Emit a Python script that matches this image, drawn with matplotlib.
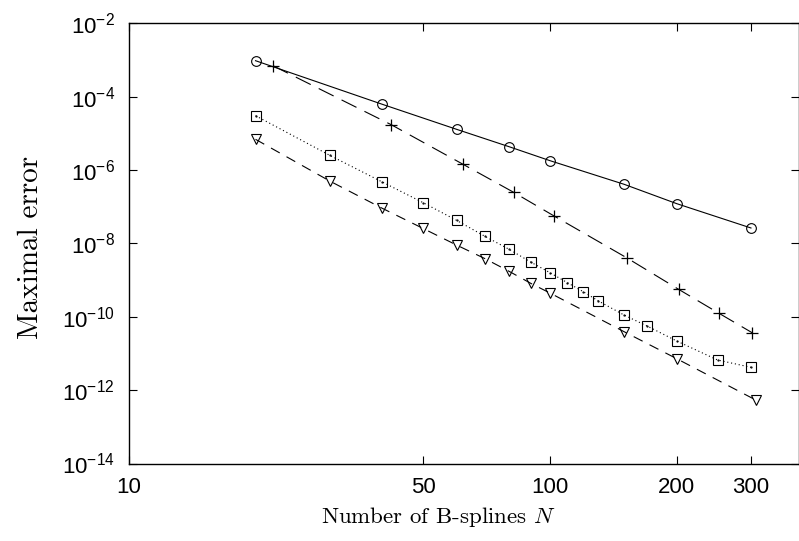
import matplotlib
matplotlib.use("Agg")
import matplotlib.pyplot as plt
from matplotlib.ticker import FixedLocator, FuncFormatter, NullLocator
import numpy as np

# ---- data ----
n_circle = [20, 40, 60, 80, 100, 150, 200, 300]
err_circle = [9.56e-4, 6.19e-5, 1.29e-5, 4.32e-6, 1.80e-6, 4.08e-7, 1.21e-7, 2.63e-8]

n_plus = [22, 42, 62, 82, 102, 152, 202, 252, 302]
err_plus = [6.98e-4, 1.72e-5, 1.46e-6, 2.47e-7, 5.69e-8, 4.07e-9, 5.60e-10, 1.24e-10, 3.67e-11]

n_square = [20, 30, 40, 50, 60, 70, 80, 90, 100, 110, 120, 130, 150, 170, 200, 250, 300]
err_square = [3.03e-5, 2.52e-6, 4.71e-7, 1.29e-7, 4.26e-8, 1.57e-8, 6.90e-9, 3.10e-9, 1.59e-9,
              8.48e-10, 4.82e-10, 2.74e-10, 1.11e-10, 5.60e-11, 2.18e-11, 6.62e-12, 4.19e-12]

n_tri = [20, 30, 40, 50, 60, 70, 80, 90, 100, 150, 200, 308]
err_tri = [6.88e-6, 5.02e-7, 9.04e-8, 2.55e-8, 9.03e-9, 3.87e-9, 1.73e-9, 8.17e-10, 4.44e-10,
           3.91e-11, 7.18e-12, 5.37e-13]

x_ticks = [10, 50, 100, 200, 300]
y_ticks = [1e-14, 1e-12, 1e-10, 1e-8, 1e-6, 1e-4, 1e-2]

plt.rcParams['mathtext.fontset'] = 'cm'
plt.rcParams['font.family'] = ['Liberation Sans', 'DejaVu Sans']

fig = plt.figure(figsize=(7.99, 5.41), dpi=100)
ax = fig.add_axes([128.7/799, 1-463.5/541, (798.5-128.7)/799, (463.5-23.3)/541])

lw = 0.8
ax.plot(n_circle, err_circle, color='black', lw=lw, ls='-', marker='o', ms=7,
        mfc='none', mec='black', mew=0.8)
ax.plot(n_plus, err_plus, color='black', lw=lw, ls=(0, (15, 8)), marker='+', ms=9,
        mec='black', mew=0.9)
ax.plot(n_square, err_square, color='black', lw=lw, ls=(0, (1, 2.5)), marker='s', ms=7,
        mfc='none', mec='black', mew=0.8)
ax.plot(n_square, err_square, ls='none', marker='.', ms=1.2, color='black')
ax.plot(n_tri, err_tri, color='black', lw=lw, ls=(0, (9, 7)), marker='v', ms=7.5,
        mfc='none', mec='black', mew=0.8)

ax.set_xscale('log')
ax.set_yscale('log')
ax.set_xlim(10, 389)
ax.set_ylim(1e-14, 1e-2)

ax.xaxis.set_major_locator(FixedLocator(x_ticks))
ax.xaxis.set_minor_locator(NullLocator())
ax.xaxis.set_major_formatter(FuncFormatter(lambda v, p: '%d' % round(v)))
ax.yaxis.set_major_locator(FixedLocator(y_ticks))
ax.yaxis.set_minor_locator(NullLocator())
ax.yaxis.set_major_formatter(FuncFormatter(lambda v, p: r'$\mathregular{10^{%d}}$' % round(np.log10(v))))

ax.tick_params(direction='in', length=6, width=0.8, top=True, right=True,
               labelsize=16)
ax.tick_params(axis='x', pad=10)
ax.tick_params(axis='y', pad=10)
for s in ax.spines.values():
    s.set_linewidth(1.0)

ax.set_xlabel('Number of B-splines $N$', fontfamily='cmr10', fontsize=16.5)
ax.set_ylabel('Maximal error', fontfamily='cmr10', fontsize=21)
ax.xaxis.set_label_coords(0.462, -0.094)
ax.yaxis.set_label_coords(-0.126, 0.49)

fig.savefig('out.png', dpi=100)
